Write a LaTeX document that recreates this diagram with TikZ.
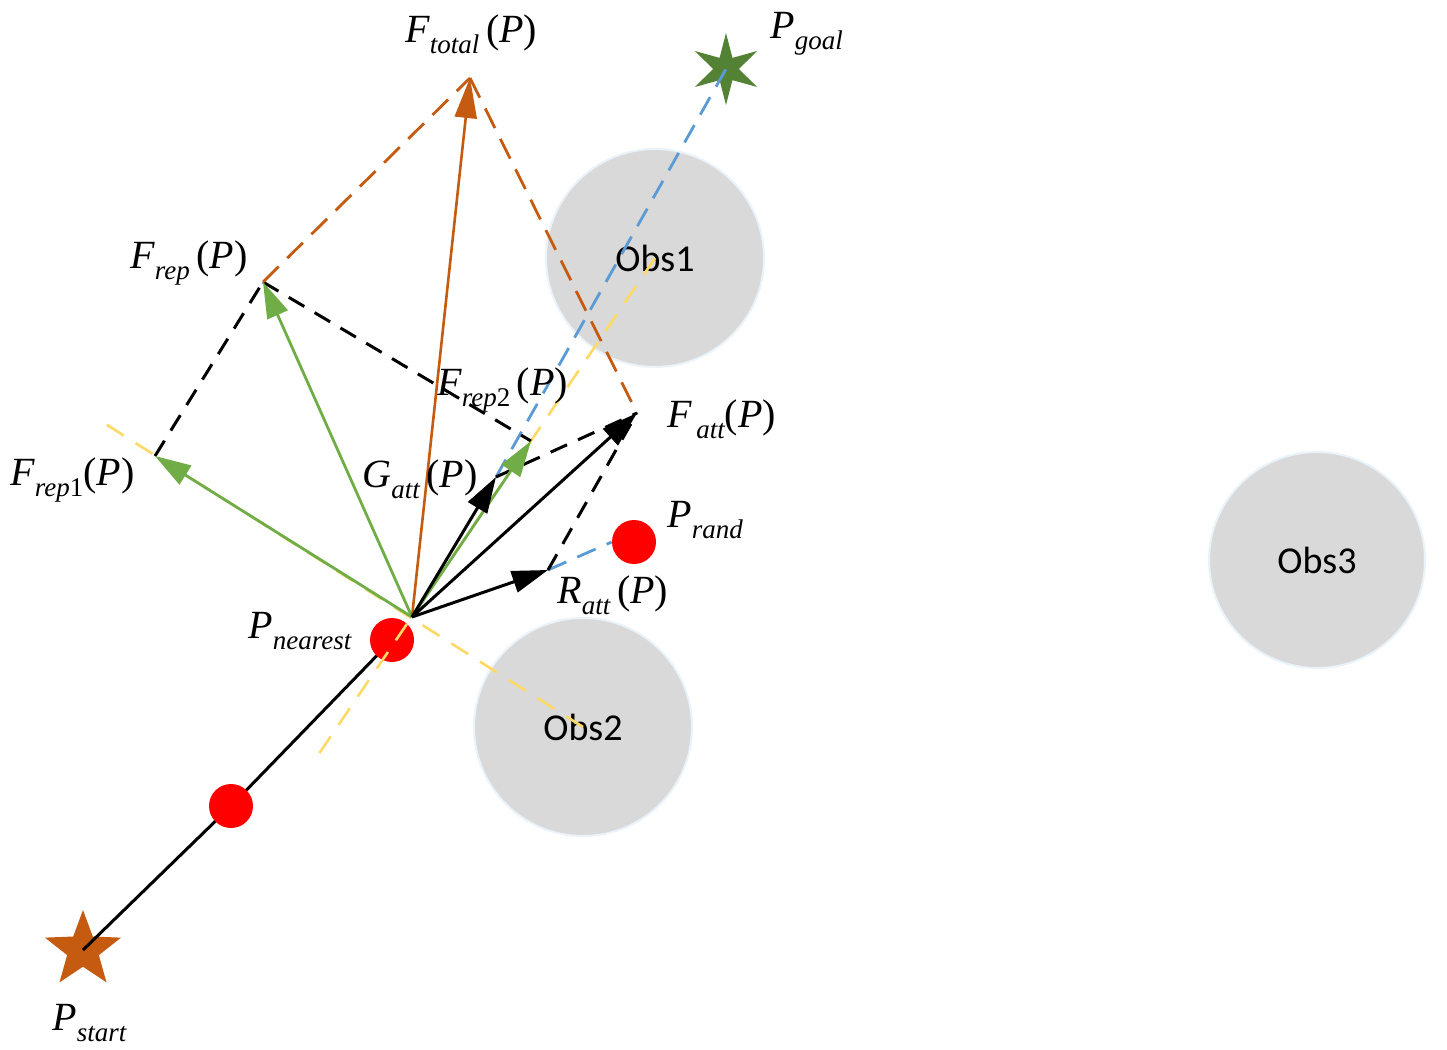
\documentclass[tikz,border=0pt]{standalone}
\usepackage{fontspec}
\setmainfont{Liberation Serif}
\newfontfamily\labfont{Liberation Serif}
\newfontfamily\obsfont{Carlito}
\usetikzlibrary{arrows.meta,shapes.geometric}
\definecolor{vorange}{HTML}{C55A11}
\definecolor{vgreen}{HTML}{70AD47}
\definecolor{vblue}{HTML}{5B9BD5}
\definecolor{vyellow}{HTML}{FFD966}
\definecolor{obsgray}{HTML}{D9D9D9}
\definecolor{goalgreen}{HTML}{548235}
\definecolor{dotred}{HTML}{FF0000}
\newcommand{\vlab}[2]{{\labfont\itshape #1}\raisebox{-5.5pt}{\labfont\fontsize{13.5}{14}\selectfont\itshape #2}}
\newcommand{\argP}{\,({\labfont\itshape P})}
\begin{document}
\begin{tikzpicture}[x=0.5pt,y=-0.5pt,
  lab/.style={anchor=base west, inner sep=0pt, font=\labfont\fontsize{20}{24}\selectfont},
  obs/.style={circle, fill=obsgray, draw=vblue!12, line width=1pt, inner sep=0pt, minimum size=#1, font=\obsfont\fontsize{19}{22}\selectfont},
  reddot/.style={circle, fill=dotred, inner sep=0pt, minimum size=22pt},
  pathline/.style={line width=1.5pt, black},
  vecblack/.style={line width=1.5pt, black, -{Triangle[length=18pt,width=11pt]}},
  vecgreen/.style={line width=1.4pt, vgreen, -{Triangle[length=18pt,width=11pt]}},
  vecorange/.style={line width=1.3pt, vorange, -{Triangle[length=20pt,width=11pt]}},
  dblack/.style={line width=1.5pt, black, dash pattern=on 9pt off 6pt},
  dorange/.style={line width=1.4pt, vorange, dash pattern=on 11pt off 6pt},
  dblue/.style={line width=1.4pt, vblue, dash pattern=on 10pt off 6pt},
  dyellow/.style={line width=1.3pt, vyellow, dash pattern=on 10pt off 7pt}
]
\useasboundingbox (0,0) rectangle (1447,1050);

% obstacles
\node[obs=109pt] (obs1) at (655,258) {Obs1};
\node[obs=109pt] (obs2) at (583,727) {Obs2};
\node[obs=108pt] (obs3) at (1317,560) {Obs3};

% key points
\coordinate (P) at (412,617);
\coordinate (Ftot) at (470,78);
\coordinate (Frep) at (263,282);
\coordinate (Frep1) at (155,456);
\coordinate (Frep2) at (531,441);
\coordinate (Gatt) at (496,477);
\coordinate (Fatt) at (637,413);
\coordinate (Ratt) at (548,570);
\coordinate (y1end) at (104,423);
\coordinate (y2end) at (312,764);

% stars
\node[star, star points=5, star point ratio=2.4, fill=vorange, inner sep=0pt, minimum size=40pt] (start) at (83,950) {};
\node[star, star points=6, star point ratio=2.8, fill=goalgreen, inner sep=0pt, minimum size=36pt] (goal) at (726,69) {};

% path
\coordinate (dot2c) at (231,806);
\coordinate (nearc) at (392,640);
\draw[pathline] (start.center) -- (dot2c) -- (nearc);
\node[reddot] (dot2) at (dot2c) {};
\node[reddot] (near) at (nearc) {};
\node[reddot] (rand) at (634,542) {};

% yellow lines
\draw[dyellow] (obs2.center) -- (y1end);
\draw[dyellow] (obs1.center) -- (y2end);

% blue lines
\draw[dblue] (Gatt) -- (goal.center);
\draw[dblue] (Ratt) -- (rand.west);

% parallelogram dashed lines
\draw[dblack] (Frep1) -- (Frep);
\draw[dblack] (Frep) -- (Frep2);
\draw[dblack] (Gatt) -- (Fatt);
\draw[dblack] (Ratt) -- (Fatt);
\draw[dorange] (Frep) -- (Ftot);
\draw[dorange] (Ftot) -- (Fatt);

% vectors
\draw[vecgreen] (P) -- (Frep1);
\draw[vecgreen] (P) -- (Frep);
\draw[vecgreen] (P) -- (Frep2);
\draw[vecorange] (P) -- (Ftot);
\draw[vecblack] (P) -- (Gatt);
\draw[vecblack] (P) -- (Fatt);
\draw[vecblack] (P) -- (Ratt);

% labels
\node[lab] (lFtot) at (405,42) {\vlab{F}{total}\argP};
\node[lab] (lgoal) at (770,38) {\vlab{P}{goal}};
\node[lab] (lFrep) at (130,268) {\vlab{F}{rep}\argP};
\node[lab] (lFrep2) at (437,395) {\vlab{F}{rep\upshape 2}\argP};
\node[lab] (lFatt) at (667,427) {\vlab{F}{\,att}({\itshape P})};
\node[lab] (lFrep1) at (10,485) {\vlab{F}{rep\upshape 1}({\itshape P})};
\node[lab] (lGatt) at (362,487) {\vlab{G}{att}\argP};
\node[lab] (lrand) at (667,527) {\vlab{P}{rand}};
\node[lab] (lRatt) at (557,603) {\vlab{R}{att}\argP};
\node[lab] (lnear) at (248,638) {\vlab{P}{nearest}};
\node[lab] (lstart) at (52,1030) {\vlab{P}{start}};
\end{tikzpicture}
\end{document}
